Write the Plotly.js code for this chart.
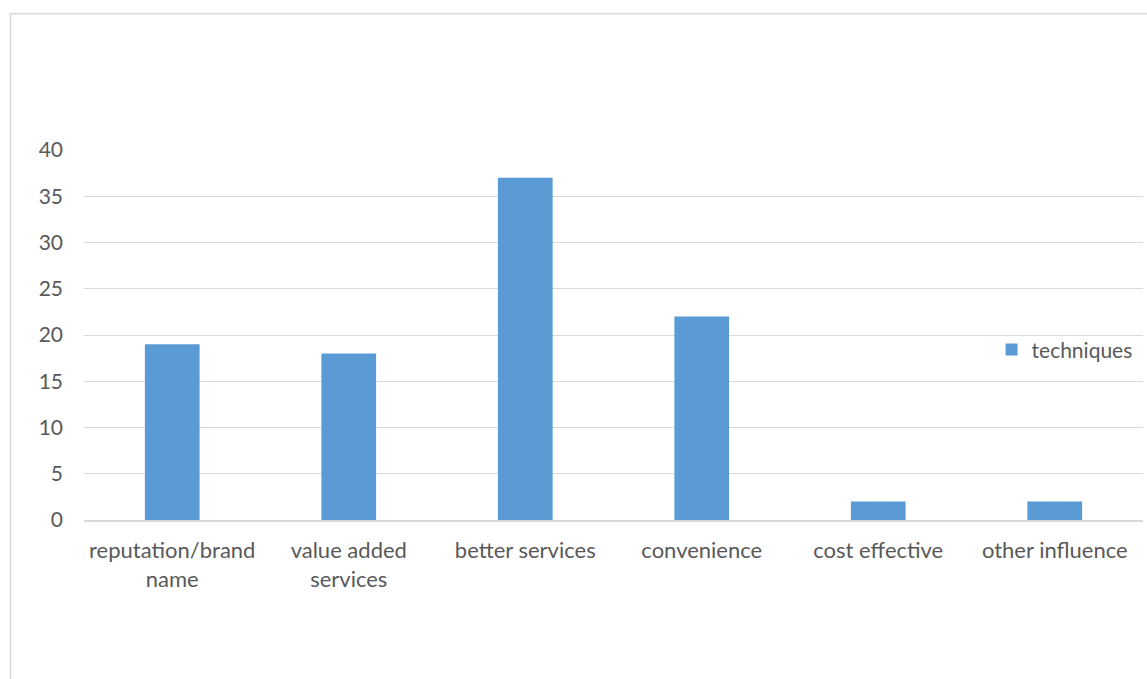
<!DOCTYPE html>
<html><head><meta charset="utf-8">
<script src="https://cdn.plot.ly/plotly-3.0.1.min.js"></script>
<style>html,body{margin:0;padding:0;background:#fff;}#chart{width:1147px;height:679px;}</style>
</head><body><div id="chart"></div>
<script>
const categories = ["reputation/brand<br>name", "value added<br>services", "better services", "convenience", "cost effective", "other influence"];
const values = [19, 18, 37, 22, 2, 2];
const seriesName = "techniques";
const yTicks = [0, 5, 10, 15, 20, 25, 30, 35, 40];

const font = {family: "Lato, 'Open Sans', sans-serif", size: 21, color: "#595959"};
const xfont = {family: "Lato, 'Open Sans', sans-serif", size: 22, color: "#595959"};
const data = [{
  type: "bar", x: categories, y: values, name: seriesName,
  marker: {color: "#5B9BD5"}, hoverinfo: "x+y"
}];
const layout = {
  width: 1147, height: 679,
  margin: {l: 84, r: 4, t: 150, b: 159},
  paper_bgcolor: "#fff", plot_bgcolor: "#fff",
  font: font,
  bargap: 0.69,
  showlegend: true,
  legend: {x: 0.857, y: 0.46, xanchor: "left", yanchor: "middle", bgcolor: "rgba(0,0,0,0)", font: font, itemwidth: 30},
  xaxis: {type: "category", showgrid: false, showline: true, linecolor: "#d9d9d9", linewidth: 2, ticks: "", ticklabelstandoff: 10, tickfont: xfont, fixedrange: true},
  yaxis: {range: [0, 40], tickvals: yTicks, showgrid: true, gridcolor: "#d9d9d9", gridwidth: 1, zeroline: false, showline: false, ticks: "", ticklabelstandoff: 20, tickfont: font, fixedrange: true},
  shapes: [{type: "rect", xref: "paper", yref: "paper", x0: -0.0694, x1: 1.01, y0: -0.45, y1: 1.368, line: {color: "#d9d9d9", width: 1.5}, fillcolor: "rgba(0,0,0,0)", layer: "below"}]
};
Plotly.newPlot("chart", data, layout, {displayModeBar: false, staticPlot: false});
</script></body></html>
